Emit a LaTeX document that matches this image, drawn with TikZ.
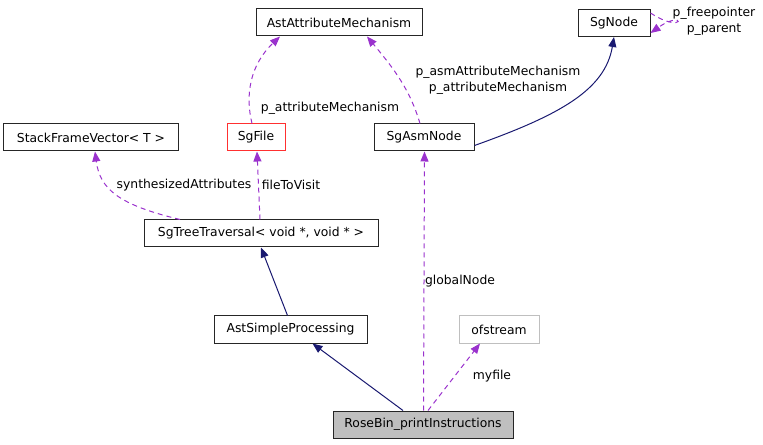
\documentclass[tikz,border=0pt]{standalone}
\usepackage{fontspec}
\setmainfont{DejaVu Sans}
\usetikzlibrary{arrows.meta}
\definecolor{edgeblue}{HTML}{191970}
\definecolor{edgepurple}{HTML}{9A32CD}
\definecolor{boxgray}{HTML}{BFBFBF}
\definecolor{boxred}{HTML}{FF3030}
\begin{document}
\begin{tikzpicture}[x=1bp,y=-1bp,
  cls/.style={draw=black!85,line width=1bp,minimum height=27bp,inner sep=0pt,font=\fontsize{12.4}{14}\selectfont,fill=white},
  inh/.style={draw=edgeblue,line width=1bp,-{Triangle[length=10bp,width=8bp]}},
  use/.style={draw=edgepurple,line width=1bp,dash pattern=on 5bp off 4bp,-{Triangle[length=10bp,width=8bp]}},
  lbl/.style={font=\fontsize{12.4}{14}\selectfont,inner sep=0pt}]
\useasboundingbox (0,0) rectangle (763,445);
\node[cls,minimum width=166bp] (aam) at (339,22.5) {AstAttributeMechanism};
\node[cls,minimum width=72bp] (sgn) at (614,23) {SgNode};
\node[cls,minimum width=174bp] (sfv) at (91,137.5) {StackFrameVector< T >};
\node[cls,draw=boxred,minimum width=58bp] (sgf) at (256,137.5) {SgFile};
\node[cls,minimum width=100bp] (san) at (424,137.5) {SgAsmNode};
\node[cls,minimum width=234bp] (stt) at (261,233.5) {SgTreeTraversal< void *, void * >};
\node[cls,minimum width=153bp] (asp) at (290.5,329.5) {AstSimpleProcessing};
\node[cls,draw=boxgray,minimum width=80bp] (ofs) at (499,329.5) {ofstream};
\node[cls,fill=boxgray,minimum width=180bp] (rbp) at (423,424.5) {RoseBin\_printInstructions};
% inheritance
\draw[inh] ([xshift=-3bp]asp.north) -- (stt.south);
\draw[inh] ([xshift=-20bp]rbp.north) -- ([xshift=22bp]asp.south);
\draw[inh] ([yshift=-8bp]san.east) .. controls (560,115) and (605,90) .. (sgn.south);
% usage
\draw[use] ([xshift=0.5bp]rbp.north) -- ([xshift=0.5bp]san.south);
\node[lbl] (gn) at (460,281) {globalNode};
\draw[use] ([xshift=5bp]rbp.north) -- ([xshift=-19bp]ofs.south);
\node[lbl] (mf) at (492,376) {myfile};
\draw[use] ([xshift=-81bp]stt.north) .. controls (120,205) and (100,190) .. ([xshift=4bp]sfv.south);
\node[lbl] (sa) at (184,185) {synthesizedAttributes};
\draw[use] ([xshift=-1bp]stt.north) -- ([xshift=1bp]sgf.south);
\node[lbl] (ftv) at (291,185) {fileToVisit};
\draw[use] ([xshift=-4bp]sgf.north) .. controls (245,95) and (250,65) .. ([xshift=-59bp]aam.south);
\node[lbl] (pam1) at (330,108) {p\_attributeMechanism};
\draw[use] ([xshift=-4bp]san.north) .. controls (410,90) and (395,70) .. ([xshift=28bp]aam.south);
\node[lbl] (pasm) at (498,72) {p\_asmAttributeMechanism};
\node[lbl] (pam2) at (498,88) {p\_attributeMechanism};
\draw[use] ([yshift=10bp]sgn.east) .. controls (686,36) and (686,8) .. ([yshift=-10bp]sgn.east);
\node[lbl] (pfp) at (714,13) {p\_freepointer};
\node[lbl] (pp) at (714,30) {p\_parent};
\end{tikzpicture}
\end{document}
